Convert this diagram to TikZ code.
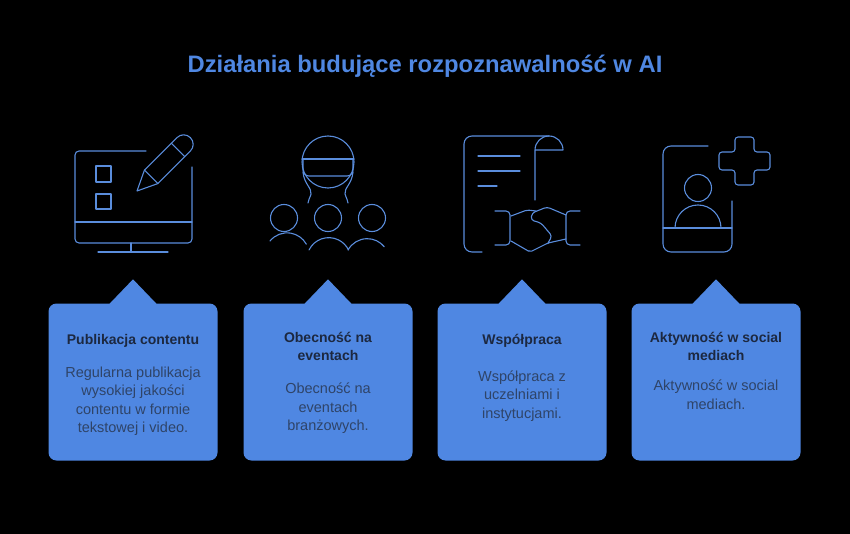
\documentclass[tikz,border=0pt]{standalone}
\usepackage{fontspec}
\setmainfont{Liberation Sans}
\usetikzlibrary{positioning}

\definecolor{accent}{HTML}{4F87E2}
\definecolor{iconblue}{HTML}{5A8DDC}
\definecolor{inkdark}{HTML}{1C2840}
\definecolor{inkbody}{HTML}{2F4468}

\begin{document}
\begin{tikzpicture}[x=1pt,y=-1pt,
  card/.style={fill=accent, rounded corners=8pt, minimum width=169pt, minimum height=157pt, inner sep=0pt},
  cardhead/.style={anchor=north, align=center, inner sep=0pt, text=inkdark, font=\bfseries\fontsize{14}{18}\selectfont},
  cardbody/.style={align=center, inner sep=0pt, text=inkbody, font=\fontsize{14.5}{18.5}\selectfont},
  icon/.style={draw=iconblue, line width=1.1pt, line cap=round, line join=round, rounded corners=4pt}]
\fill[black] (0,0) rectangle (850,534);
\useasboundingbox (0,0) rectangle (850,534);

\node[text=accent, font=\bfseries\fontsize{23.8}{28}\selectfont] (title) at (425,66) {Działania budujące rozpoznawalność w AI};

\node[card] (pub) at (133,382) {};
\node[card] (event) at (328,382) {};
\node[card] (coop) at (522,382) {};
\node[card] (social) at (716,382) {};
\fill[accent] ([xshift=-24pt,yshift=-1pt]pub.north) -- ([yshift=24pt]pub.north) -- ([xshift=24pt,yshift=-1pt]pub.north) -- cycle;
\fill[accent] ([xshift=-24pt,yshift=-1pt]event.north) -- ([yshift=24pt]event.north) -- ([xshift=24pt,yshift=-1pt]event.north) -- cycle;
\fill[accent] ([xshift=-24pt,yshift=-1pt]coop.north) -- ([yshift=24pt]coop.north) -- ([xshift=24pt,yshift=-1pt]coop.north) -- cycle;
\fill[accent] ([xshift=-24pt,yshift=-1pt]social.north) -- ([yshift=24pt]social.north) -- ([xshift=24pt,yshift=-1pt]social.north) -- cycle;

\node[cardhead] (pubh) at (133,334) {Publikacja contentu};
\node[cardbody, below=19pt of pubh] (pubb) {Regularna publikacja\\wysokiej jakości\\contentu w formie\\tekstowej i video.};
\node[cardhead] (eventh) at (328,332) {Obecność na\\eventach};
\node[cardbody, below=22pt of eventh] (eventb) {Obecność na\\eventach\\branżowych.};
\node[cardhead] (cooph) at (522,334) {Współpraca};
\node[cardbody, below=23pt of cooph] (coopb) {Współpraca z\\uczelniami i\\instytucjami.};
\node[cardhead] (socialh) at (716,332) {Aktywność w social\\mediach};
\node[cardbody, below=19pt of socialh] (socialb) {Aktywność w social\\mediach.};

\draw[icon] (146,151) -- (75,151) -- (75,243) -- (192,243) -- (192,167);
\draw[icon] (75,222) -- (192,222);
\draw[icon] (131,243) -- (131,252);
\draw[icon] (98,252) -- (168,252);
\draw[icon, rounded corners=0pt] (96,166) rectangle (111,182);
\draw[icon, rounded corners=0pt] (96,194) rectangle (111,209);
\begin{scope}[shift={(137,191)}, rotate=45]
\draw[icon, rounded corners=0pt] (0,0) -- (20,-9.5) -- (66,-9.5) arc[start angle=-90, end angle=90, radius=9.5] -- (20,9.5) -- cycle;
\draw[icon] (20,-9.5) -- (20,9.5);
\draw[icon] (58,-9.5) -- (58,9.5);
\end{scope}

\draw[icon] (328,162) circle[radius=26];
\draw[icon] (302,159) -- (354,159);
\draw[icon, rounded corners=6pt] (303,159) -- (303,176) -- (353,176) -- (353,159);
\draw[icon, rounded corners=0pt] (303,172) .. controls (304,184) and (312,188) .. (311,194) .. controls (310,198) and (308,200) .. (308,203);
\draw[icon, rounded corners=0pt] (353,172) .. controls (352,184) and (344,188) .. (345,194) .. controls (346,198) and (348,200) .. (348,203);
\draw[icon] (284,218) circle[radius=13.5];
\draw[icon] (328,218) circle[radius=13.5];
\draw[icon] (372,218) circle[radius=13.5];
\draw[icon] (270,241) arc[start angle=219, end angle=331, radius=22];
\draw[icon] (309,250) arc[start angle=206, end angle=334, radius=22];
\draw[icon] (348,250) arc[start angle=209, end angle=321, radius=22];

\draw[icon, rounded corners=8pt] (482,252) -- (464,252) -- (464,136) -- (549,136);
\draw[icon, rounded corners=0pt] (535,200) -- (535,150) arc[start angle=180, end angle=360, radius=14] -- (535,150);
\draw[icon] (478,156) -- (520,156);
\draw[icon] (478,171) -- (520,171);
\draw[icon] (478,186) -- (497,186);
\draw[icon] (495,211) -- (510,211) -- (510,245) -- (495,245);
\draw[icon] (580,211) -- (566,211) -- (566,245) -- (580,245);
\draw[icon, rounded corners=2pt] (511,216) -- (527,210) -- (536,211);
\draw[icon, rounded corners=3pt] (566,215) -- (547,207) -- (532,213) -- (531,220) -- (541,223) -- (552,236) -- (548,243);
\draw[icon, rounded corners=2pt] (511,241) -- (530,252) -- (548,243) -- (566,239);

\draw[icon, rounded corners=8pt] (708,146) -- (663,146) -- (663,252) -- (732,252) -- (732,201);
\draw[icon] (663,228) -- (732,228);
\draw[icon] (698,188) circle[radius=13.5];
\draw[icon, rounded corners=0pt] (675,228) arc[start angle=180, end angle=360, radius=23];
\draw[icon, rounded corners=3pt] (735,137) -- (754,137) -- (754,152) -- (770,152) -- (770,170) -- (754,170) -- (754,185) -- (735,185) -- (735,170) -- (719,170) -- (719,152) -- (735,152) -- cycle;
\end{tikzpicture}
\end{document}
